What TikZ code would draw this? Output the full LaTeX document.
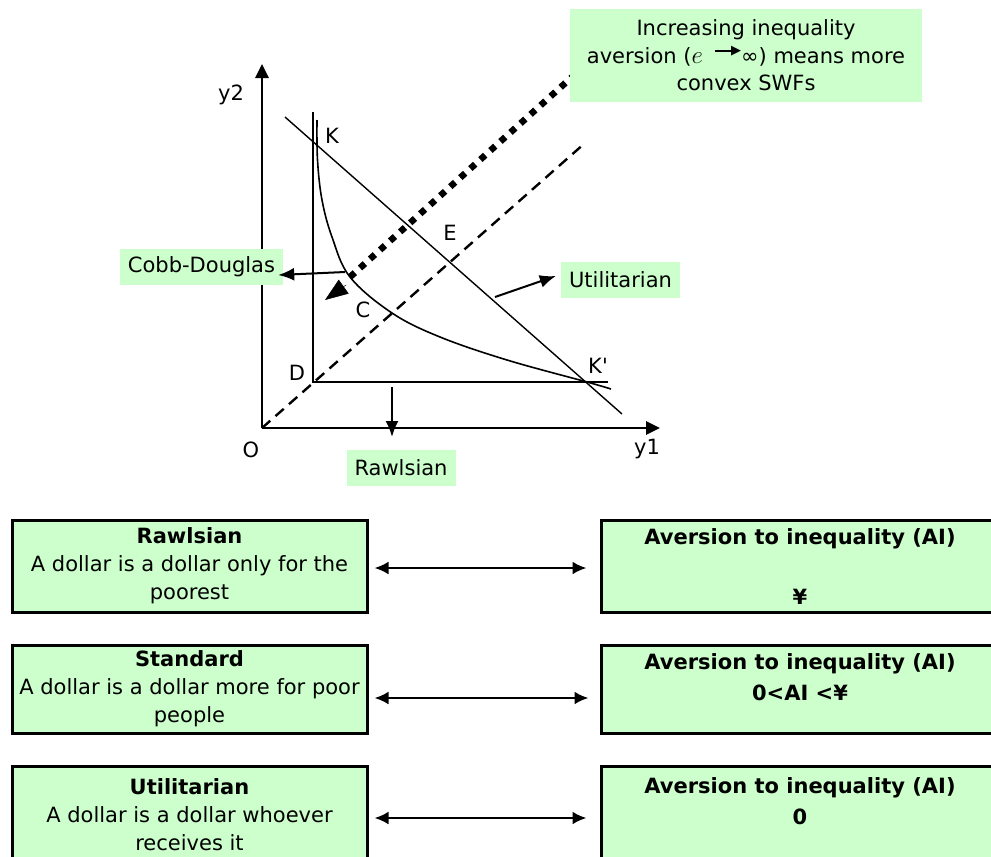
\documentclass[tikz,border=0pt]{standalone}
\usepackage{fontspec}
\setmainfont{DejaVu Sans}
\usetikzlibrary{positioning}
\usetikzlibrary{calc}
\usetikzlibrary{arrows.meta}

\definecolor{palegreen}{HTML}{CCFFCC}

\begin{document}
\begin{tikzpicture}[x=1pt,y=-1pt,
        every node/.style={font=\fontsize{21}{28}\selectfont, inner sep=0pt},
        axis/.style={line width=2.6pt,-{Triangle[length=14pt,width=13pt]}},
        pointer/.style={line width=2pt,-{Latex[length=16pt,width=13pt]}},
        twoway/.style={line width=2.6pt,{Latex[length=14pt,width=13pt]}-{Latex[length=14pt,width=13pt]}},
        greenbox/.style={fill=palegreen},
        tablebox/.style={draw,line width=3pt,fill=palegreen,align=center}]
    \useasboundingbox (0,0) rectangle (991,857);
    % points of the graph
    \coordinate (O) at (262,428);
    \coordinate (y2tip) at (262,64);
    \coordinate (y1tip) at (660,428);
    \coordinate (D) at (313,382);
    \coordinate (Dtop) at (313,112);
    \coordinate (Dright) at (608,382);
    \coordinate (Kstart) at (285,117);
    \coordinate (Kend) at (622,414);
    \coordinate (rayend) at (585,143);
    \coordinate (dotlow) at (350,277);
    \coordinate (dothigh) at (572,77);
    \coordinate (cdpoint) at (345,272);
    \coordinate (utpoint) at (495,297);
    \coordinate (rwpoint) at (392,387);
    \coordinate (rwtip) at (392,437);
    \coordinate (headbase) at (346,285);
    \coordinate (headtip) at (325,300);
    % axes
    \draw[axis] (O) -- (y2tip);
    \draw[axis] (O) -- (y1tip);
    \node (y2) at (231,95) {y2};
    \node (o) at (251,450) {O};
    \node (y1) at (647,449) {y1};
    % Rawlsian, utilitarian and Cobb-Douglas
    \draw[line width=1.6pt] (Dtop) -- (D) -- (Dright);
    \draw[line width=1.4pt] (Kstart) -- (Kend);
    \draw[line width=1.6pt] plot[smooth,tension=0.6] coordinates {(317,120) (317.5,160) (322,200) (332,237) (350,277) (392,313) (440,337) (507,360) (587,382) (611,389)};
    \draw[line width=2.4pt,dash pattern=on 11pt off 7pt] (O) -- (rayend);
    \draw[line width=6.5pt,dash pattern=on 6.5pt off 7pt] (dotlow) -- (dothigh);
    \draw[line width=0.5pt,-{Triangle[length=23pt,width=17pt]}] (headbase) -- (headtip);
    \node (K) at (332,136) {K};
    \node (Kp) at (598,366) {K\textquotesingle};
    \node (E) at (450,233) {E};
    \node (C) at (363,310) {C};
    \node (Dl) at (297,373) {D};
    % labels
    \node[greenbox,minimum width=163pt,minimum height=36pt] (cobb) at (201.5,267) {Cobb-Douglas};
    \node[greenbox,minimum width=119pt,minimum height=36pt] (util) at (620.5,280) {Utilitarian};
    \node[greenbox,minimum width=109pt,minimum height=36pt] (rawls) at (401,468) {Rawlsian};
    \node[greenbox,minimum width=352pt,minimum height=93pt,align=center,font=\fontsize{21}{27.5}\selectfont] (aversion) at (746,55.5)
        {Increasing inequality\\aversion ({\fontsize{27}{27}\selectfont$e$}\hspace{0.6em}\rule[0.55em]{1.05em}{2pt}\kern-0.3em\raisebox{0.42em}{\fontsize{13}{13}\selectfont ▶}∞) means more\\convex SWFs};
    \draw[pointer] (cdpoint) -- ([xshift=-5pt,yshift=-8pt]cobb.east);
    \draw[pointer] (utpoint) -- ([xshift=-5pt,yshift=4pt]util.west);
    \draw[pointer] (rwpoint) -- (rwtip);
    % table below
    \node[tablebox,minimum width=355pt,minimum height=92pt] (rawlsbox) at (189.5,566)
        {\textbf{Rawlsian}\\A dollar is a dollar only for the\\poorest};
    \node[tablebox,minimum width=355pt,minimum height=88pt] (stdbox) at (189.5,689)
        {\textbf{Standard}\\A dollar is a dollar more for poor\\people};
    \node[tablebox,minimum width=355pt,minimum height=98pt] (utilbox) at (189.5,815)
        {\textbf{Utilitarian}\\A dollar is a dollar whoever\\receives it};
    \node[tablebox,minimum width=398pt,minimum height=92pt] (airaw) at (800,566) {};
    \node[tablebox,minimum width=398pt,minimum height=88pt] (aistd) at (800,689) {};
    \node[tablebox,minimum width=398pt,minimum height=98pt] (aiutil) at (800,815) {};
    \node[align=center,below=10pt of airaw.north] (airawtext) {\textbf{Aversion to inequality (AI)}\\[32pt]\textbf{¥}};
    \node[align=center,below=10pt of aistd.north] (aistdtext) {\textbf{Aversion to inequality (AI)}\\[3pt]\textbf{0<AI <¥}};
    \node[align=center,below=13pt of aiutil.north] (aiutiltext) {\textbf{Aversion to inequality (AI)}\\[3pt]\textbf{0}};
    \draw[twoway] ([xshift=6pt,yshift=-2pt]rawlsbox.east) -- ([xshift=-13pt,yshift=-2pt]airaw.west);
    \draw[twoway] ([xshift=6pt,yshift=-9pt]stdbox.east) -- ([xshift=-11pt,yshift=-9pt]aistd.west);
    \draw[twoway] ([xshift=6pt,yshift=-3pt]utilbox.east) -- ([xshift=-13pt,yshift=-3pt]aiutil.west);
\end{tikzpicture}
\end{document}
